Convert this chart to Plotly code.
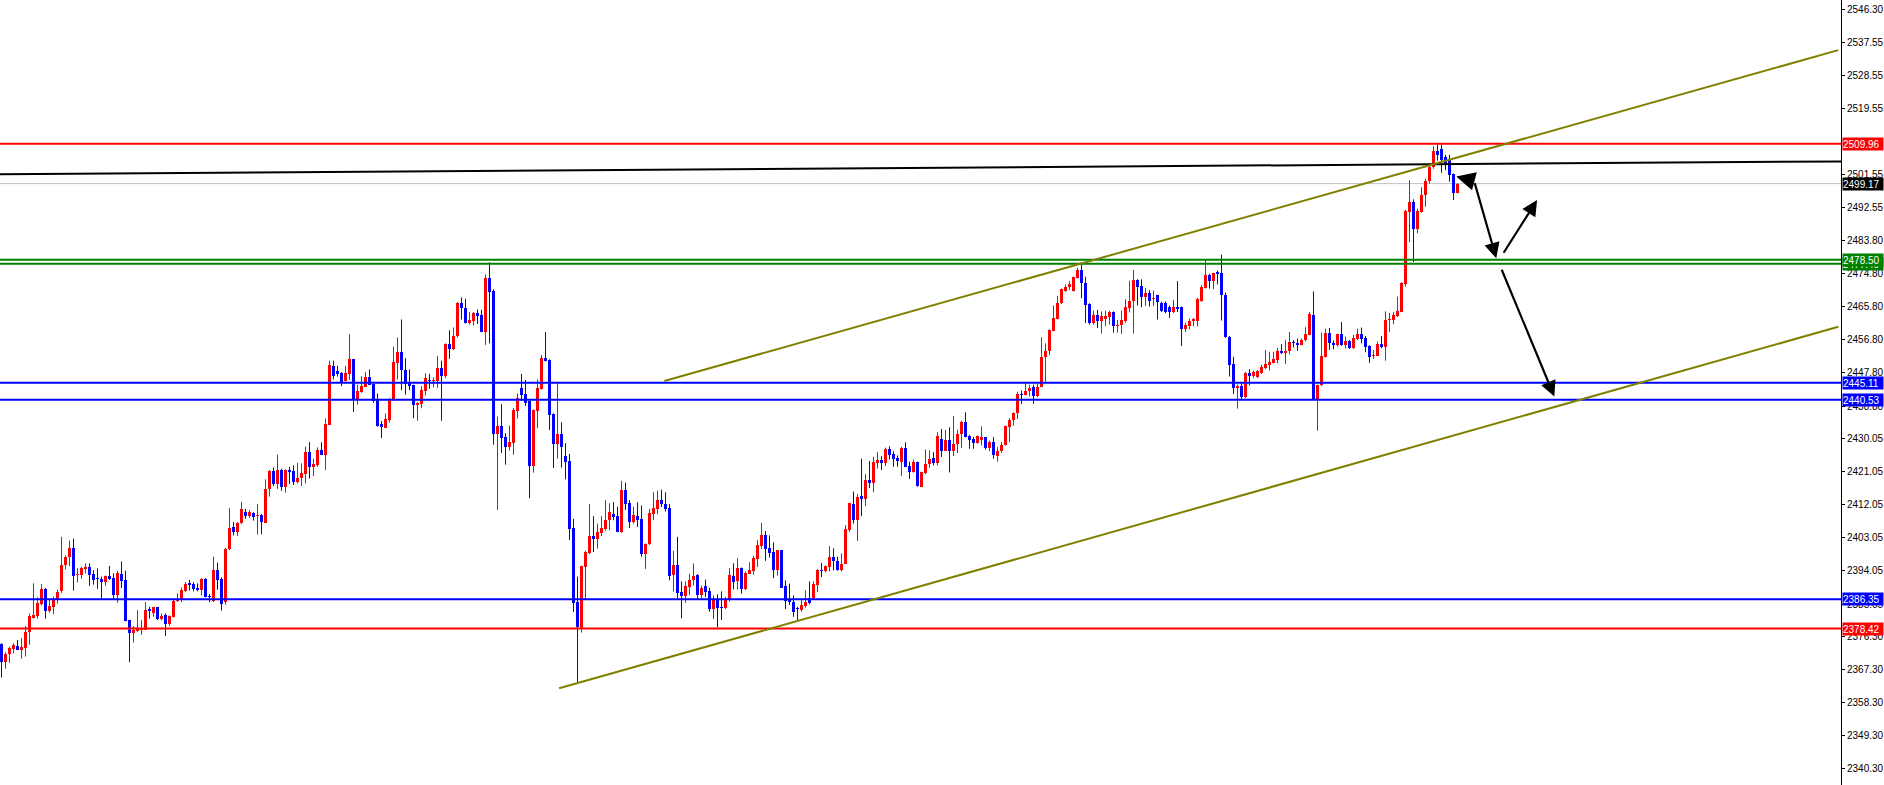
import plotly.graph_objects as go

# ---------------- data ----------------
opens = [
 2374.2,2369.3,2371.5,2372.8,2373.8,2372.6,2373.1,2377.5,2381.3,2381.8,
 2385.1,2389.2,2383.3,2384.3,2386.3,2388.5,2395.6,2397.9,2400.3,2393.0,
 2393.0,2394.7,2395.2,2393.2,2391.9,2391.9,2391.0,2392.7,2392.1,2387.6,
 2393.2,2391.6,2380.7,2377.3,2377.8,2378.0,2378.0,2383.8,2382.7,2384.2,
 2381.1,2382.0,2379.6,2381.6,2385.8,2386.2,2388.7,2390.7,2390.5,2389.4,
 2389.0,2391.9,2387.2,2385.8,2394.3,2391.9,2385.6,2399.9,2405.9,2404.6,
 2407.0,2410.0,2409.0,2409.8,2408.9,2409.3,2407.1,2416.3,2421.2,2417.6,
 2421.4,2416.9,2421.4,2421.2,2418.2,2419.4,2420.3,2426.3,2422.3,2422.9,
 2427.0,2425.6,2433.7,2449.8,2448.2,2447.8,2445.5,2447.5,2451.5,2440.8,
 2442.6,2444.0,2446.8,2444.8,2440.4,2433.9,2432.8,2435.0,2440.6,2450.6,
 2453.5,2448.6,2445.3,2444.4,2439.2,2439.3,2443.0,2446.0,2445.5,2445.7,
 2449.1,2446.9,2455.6,2454.4,2457.8,2466.7,2465.4,2461.4,2462.0,2464.1,
 2463.6,2458.9,2473.5,2469.9,2431.2,2433.4,2430.3,2427.8,2428.8,2437.5,
 2443.7,2442.0,2440.1,2422.5,2437.5,2443.5,2451.8,2451.3,2436.6,2428.5,
 2431.2,2425.2,2424.0,2405.7,2385.6,2378.5,2395.2,2398.8,2403.5,2402.8,
 2404.4,2405.5,2407.8,2409.5,2408.9,2404.6,2416.0,2412.5,2407.3,2408.9,
 2408.2,2398.6,2401.3,2409.6,2410.9,2413.4,2412.3,2411.1,2393.0,2395.7,
 2388.3,2387.2,2389.7,2391.5,2393.0,2387.5,2389.9,2388.5,2383.8,2386.5,
 2384.3,2383.9,2386.1,2392.8,2391.2,2394.8,2389.2,2393.3,2394.1,2397.3,
 2400.9,2403.8,2400.4,2399.1,2394.3,2399.7,2389.9,2386.3,2385.6,2383.8,
 2383.4,2384.5,2386.8,2386.6,2390.3,2394.3,2394.1,2395.2,2397.7,2396.8,
 2394.2,2395.9,2405.1,2412.2,2407.8,2414.3,2413.6,2418.7,2418.0,2423.4,
 2424.1,2423.4,2427.2,2425.7,2424.6,2423.7,2427.4,2422.5,2421.0,2423.7,
 2416.9,2420.7,2423.2,2424.6,2423.4,2429.9,2426.6,2429.7,2426.6,2428.4,
 2431.2,2434.4,2430.6,2429.9,2428.8,2429.5,2430.3,2427.4,2429.0,2425.2,
 2426.5,2428.1,2433.2,2435.0,2436.8,2442.1,2441.9,2442.8,2443.9,2441.4,
 2444.1,2452.0,2453.7,2459.3,2462.3,2466.7,2470.1,2471.0,2470.1,2473.6,
 2475.7,2472.3,2466.5,2461.4,2463.6,2461.8,2462.5,2463.1,2464.3,2460.5,
 2460.7,2462.0,2465.4,2467.4,2473.0,2471.4,2468.5,2469.6,2467.8,2468.9,
 2466.9,2466.9,2465.6,2464.2,2465.6,2465.6,2459.8,2460.5,2461.8,2461.8,
 2467.4,2470.9,2474.5,2472.8,2475.2,2474.8,2468.9,2457.5,2450.2,2443.7,
 2444.2,2441.2,2447.7,2447.0,2446.8,2447.9,2449.1,2450.0,2450.6,2451.3,
 2453.7,2453.3,2453.7,2456.2,2455.8,2455.3,2456.6,2458.2,2463.4,2440.8,
 2444.4,2452.2,2458.5,2455.8,2455.5,2458.4,2455.5,2456.5,2454.5,2457.1,
 2458.3,2457.2,2455.1,2452.4,2452.4,2455.6,2454.9,2462.1,2462.1,2463.2,
 2464.3,2471.9,2491.5,2494.3,2486.9,2491.5,2496.0,2499.8,2503.7,2507.9,
 2508.6,2506.3,2505.5,2501.7,2496.5]

highs = [
 2374.4,2372.0,2373.5,2374.4,2375.3,2375.8,2379.1,2382.5,2390.7,2386.9,
 2390.5,2389.4,2386.2,2387.1,2389.0,2403.3,2398.3,2402.3,2402.8,2394.8,
 2395.2,2396.1,2396.1,2394.3,2394.7,2392.5,2392.8,2395.4,2393.4,2394.1,
 2396.6,2394.1,2380.8,2379.1,2383.4,2380.7,2385.6,2384.3,2384.3,2384.3,
 2382.5,2382.5,2382.0,2386.3,2388.0,2389.6,2391.0,2391.6,2391.0,2390.7,
 2392.1,2392.1,2387.8,2397.9,2396.3,2392.3,2400.3,2411.1,2407.3,2407.3,
 2412.8,2410.9,2410.6,2410.0,2412.2,2409.5,2418.9,2421.4,2422.1,2425.6,
 2421.8,2421.6,2422.3,2422.7,2423.4,2423.2,2427.8,2429.0,2424.5,2427.6,
 2429.0,2435.4,2451.1,2451.1,2449.7,2448.0,2449.7,2458.3,2451.6,2444.6,
 2446.9,2448.0,2448.7,2444.8,2442.2,2434.8,2436.8,2441.0,2454.9,2457.4,
 2462.3,2451.8,2448.7,2444.6,2439.9,2444.2,2447.7,2447.5,2446.6,2452.4,
 2451.1,2455.8,2459.4,2460.1,2467.0,2468.3,2467.9,2464.3,2464.3,2465.0,
 2464.9,2474.5,2477.8,2470.5,2435.9,2439.3,2431.4,2433.5,2438.2,2442.2,
 2447.5,2445.9,2440.1,2437.9,2446.0,2452.7,2458.9,2451.5,2436.8,2445.1,
 2434.4,2428.7,2425.8,2408.2,2392.5,2395.5,2399.5,2412.2,2408.9,2406.9,
 2408.9,2413.3,2412.4,2412.7,2411.5,2418.5,2418.0,2413.3,2411.5,2412.7,
 2411.8,2401.5,2410.9,2415.4,2415.8,2416.1,2415.4,2412.2,2399.5,2403.3,
 2391.2,2391.2,2393.3,2396.1,2393.2,2390.1,2391.7,2389.5,2387.4,2387.7,
 2388.5,2387.0,2394.8,2396.1,2397.5,2395.0,2393.9,2396.4,2398.1,2402.4,
 2407.1,2404.9,2403.7,2401.8,2399.7,2399.7,2391.5,2390.6,2387.4,2384.3,
 2386.1,2388.8,2391.2,2391.2,2394.6,2396.2,2395.5,2400.8,2400.2,2397.9,
 2398.8,2406.5,2412.5,2415.6,2414.9,2424.5,2420.3,2423.9,2425.0,2426.3,
 2425.2,2427.5,2427.9,2426.5,2425.4,2427.7,2429.0,2423.7,2424.3,2423.7,
 2421.0,2427.0,2426.8,2426.3,2431.7,2432.6,2432.3,2433.0,2436.1,2432.4,
 2434.8,2437.1,2431.0,2430.4,2430.8,2433.3,2430.3,2429.4,2430.4,2427.7,
 2429.0,2433.5,2435.5,2437.1,2442.7,2443.0,2445.2,2444.6,2444.6,2444.8,
 2457.5,2455.8,2459.6,2466.1,2468.7,2470.7,2471.8,2472.7,2473.9,2476.3,
 2477.4,2473.9,2466.7,2464.7,2464.9,2464.5,2464.7,2464.7,2464.5,2462.2,
 2464.7,2467.8,2472.8,2475.7,2473.2,2473.2,2470.9,2470.3,2470.1,2469.0,
 2467.1,2467.2,2466.1,2467.6,2472.7,2465.8,2461.4,2462.5,2462.7,2468.1,
 2471.6,2478.6,2474.7,2475.0,2475.6,2479.9,2469.6,2457.8,2452.2,2444.6,
 2445.0,2448.0,2448.8,2448.4,2448.6,2450.0,2454.0,2453.5,2453.5,2454.6,
 2455.6,2456.7,2458.9,2456.7,2457.1,2457.1,2460.2,2464.3,2469.9,2444.6,
 2458.7,2459.8,2460.0,2456.6,2458.4,2461.6,2457.6,2456.7,2458.1,2459.8,
 2460.1,2457.8,2455.3,2454.0,2456.3,2457.8,2464.5,2464.1,2464.3,2468.5,
 2472.4,2492.0,2500.1,2494.9,2492.4,2498.2,2500.5,2504.7,2509.3,2509.7,
 2509.7,2507.0,2507.0,2501.9,2499.3]

lows = [
 2365.1,2367.5,2369.1,2371.7,2372.6,2370.2,2370.8,2374.0,2381.1,2381.1,
 2384.7,2381.1,2382.7,2382.3,2385.2,2388.1,2394.5,2395.4,2388.7,2390.9,
 2391.9,2393.4,2390.0,2390.3,2389.2,2386.5,2390.0,2391.6,2386.5,2385.4,
 2389.4,2380.4,2369.3,2374.6,2377.5,2376.7,2378.0,2381.1,2381.6,2380.7,
 2380.7,2376.4,2379.1,2381.4,2385.6,2385.6,2388.3,2388.7,2388.5,2388.5,
 2387.4,2386.9,2385.6,2385.6,2388.9,2383.3,2384.9,2399.7,2403.7,2403.5,
 2406.8,2408.2,2408.4,2407.7,2403.9,2404.0,2407.1,2414.2,2417.1,2416.3,
 2415.8,2415.3,2417.6,2417.4,2417.8,2417.1,2417.8,2419.1,2419.8,2422.3,
 2425.6,2421.4,2433.7,2446.0,2446.8,2444.2,2445.5,2445.9,2437.2,2439.2,
 2442.4,2443.9,2444.6,2439.7,2433.2,2430.1,2432.8,2434.3,2440.2,2446.0,
 2443.1,2441.9,2443.1,2435.5,2434.8,2438.2,2441.7,2443.5,2443.9,2443.7,
 2434.8,2446.4,2451.6,2454.0,2457.4,2462.3,2461.2,2460.9,2460.7,2461.1,
 2458.9,2455.4,2455.8,2428.3,2410.6,2426.1,2422.9,2426.7,2425.6,2435.4,
 2440.2,2438.8,2413.8,2420.7,2432.8,2443.3,2450.9,2432.3,2422.0,2424.5,
 2422.1,2418.9,2402.4,2382.9,2363.9,2377.3,2386.1,2398.6,2399.2,2400.1,
 2403.5,2405.0,2405.1,2407.8,2404.6,2404.4,2410.6,2405.7,2406.9,2406.0,
 2397.9,2394.6,2401.1,2407.8,2409.4,2411.4,2410.2,2391.5,2388.5,2386.6,
 2381.2,2385.4,2387.5,2390.1,2386.6,2386.6,2387.0,2383.0,2381.0,2378.7,
 2380.7,2383.7,2385.7,2389.0,2389.0,2387.9,2388.8,2393.2,2393.0,2395.1,
 2400.0,2396.8,2397.7,2392.1,2392.8,2389.4,2383.7,2384.8,2381.6,2380.5,
 2383.0,2384.1,2385.0,2386.3,2388.3,2392.4,2393.7,2393.9,2394.2,2394.1,
 2393.9,2395.9,2404.7,2406.9,2402.2,2408.9,2411.6,2416.5,2415.4,2421.8,
 2421.4,2422.5,2424.3,2422.3,2422.3,2419.8,2422.3,2419.0,2420.7,2416.9,
 2416.9,2420.3,2422.1,2422.7,2422.7,2425.0,2426.6,2420.8,2425.2,2426.1,
 2427.4,2430.3,2427.2,2427.2,2428.6,2428.1,2427.0,2426.6,2424.5,2423.7,
 2426.1,2428.1,2429.0,2433.5,2435.3,2439.4,2441.7,2441.4,2439.4,2441.2,
 2443.9,2445.2,2452.6,2459.1,2462.3,2466.5,2469.8,2470.3,2469.9,2473.4,
 2468.1,2461.3,2460.9,2460.9,2460.0,2458.5,2460.5,2460.9,2458.7,2458.7,
 2458.4,2461.4,2464.2,2458.5,2466.1,2465.6,2466.0,2465.8,2466.0,2462.3,
 2464.3,2464.0,2462.7,2464.0,2464.3,2455.1,2458.9,2459.6,2460.4,2460.4,
 2467.1,2470.7,2470.7,2470.5,2471.8,2462.0,2457.3,2446.8,2442.1,2438.1,
 2440.4,2441.0,2444.4,2446.4,2446.4,2447.5,2448.8,2448.4,2450.4,2450.4,
 2452.9,2450.2,2452.8,2454.7,2453.8,2455.3,2456.4,2458.0,2440.8,2432.1,
 2444.2,2452.0,2454.0,2454.2,2454.9,2455.1,2454.4,2454.3,2454.3,2456.7,
 2455.8,2453.4,2450.5,2451.6,2452.4,2454.5,2451.1,2458.9,2461.0,2463.0,
 2464.3,2471.2,2483.3,2477.9,2485.7,2491.3,2492.9,2499.2,2503.2,2505.4,
 2502.1,2502.8,2499.7,2494.7,2496.5]

closes = [
 2369.3,2371.5,2373.1,2374.0,2372.6,2373.5,2377.5,2381.8,2382.0,2385.4,
 2389.2,2383.3,2384.5,2386.3,2388.3,2395.6,2397.9,2400.3,2392.8,2393.2,
 2394.8,2395.0,2393.0,2391.6,2391.8,2391.0,2392.7,2391.8,2387.6,2393.6,
 2391.2,2380.5,2377.3,2378.0,2378.5,2378.2,2383.4,2383.3,2384.2,2381.1,
 2381.8,2379.6,2381.8,2385.8,2386.2,2388.9,2390.5,2390.3,2389.2,2389.0,
 2391.9,2387.1,2386.9,2394.3,2391.6,2385.2,2400.1,2405.7,2404.6,2407.0,
 2410.8,2409.0,2410.0,2408.7,2409.3,2407.3,2416.2,2421.2,2417.6,2421.4,
 2416.9,2421.4,2420.9,2418.3,2419.4,2420.7,2426.3,2422.3,2423.0,2426.8,
 2425.6,2433.9,2450.0,2446.9,2447.5,2445.3,2447.7,2451.5,2440.8,2442.8,
 2444.2,2446.8,2444.6,2440.2,2433.5,2433.0,2435.2,2440.6,2450.7,2453.5,
 2448.6,2444.9,2444.2,2439.2,2439.5,2443.1,2446.4,2445.5,2445.9,2449.1,
 2446.9,2455.6,2454.4,2457.8,2466.7,2465.4,2461.4,2462.1,2464.1,2463.2,
 2458.9,2473.5,2469.7,2431.2,2433.4,2430.1,2427.8,2429.0,2437.7,2441.1,
 2441.9,2439.7,2422.5,2437.7,2443.7,2451.8,2451.1,2436.4,2428.5,2431.2,
 2427.6,2423.6,2405.5,2385.4,2378.7,2395.4,2399.2,2403.5,2402.8,2404.6,
 2405.7,2407.8,2410.0,2408.7,2404.6,2416.0,2412.2,2407.3,2409.3,2407.8,
 2398.6,2401.3,2409.7,2411.1,2413.4,2412.2,2410.9,2392.6,2395.7,2388.1,
 2387.2,2389.9,2391.7,2392.8,2387.5,2389.5,2388.3,2383.8,2386.3,2384.1,
 2383.9,2386.3,2393.0,2391.0,2394.8,2389.2,2393.5,2394.2,2397.5,2401.1,
 2403.8,2399.9,2399.0,2394.3,2399.7,2389.5,2385.9,2385.6,2382.8,2383.6,
 2384.7,2385.6,2385.4,2390.4,2394.4,2393.9,2395.3,2397.7,2396.8,2394.4,
 2396.0,2405.3,2412.5,2407.8,2414.2,2413.6,2418.7,2418.0,2423.6,2424.1,
 2423.4,2427.2,2425.4,2424.5,2423.9,2427.4,2422.3,2421.0,2423.7,2417.0,
 2420.8,2423.2,2424.3,2423.4,2430.6,2426.6,2429.7,2426.6,2428.6,2431.3,
 2434.4,2430.4,2429.7,2428.8,2430.8,2430.3,2427.4,2429.0,2425.4,2426.6,
 2428.1,2433.3,2435.1,2436.9,2442.0,2441.9,2442.8,2443.7,2441.4,2444.1,
 2452.0,2453.7,2459.4,2462.7,2466.9,2470.5,2471.0,2471.9,2473.7,2475.7,
 2472.1,2466.3,2461.4,2463.6,2461.8,2463.3,2463.3,2464.3,2460.4,2460.9,
 2462.2,2465.6,2467.4,2473.0,2471.2,2468.5,2469.6,2467.2,2468.0,2467.1,
 2464.7,2464.3,2464.2,2465.6,2465.2,2459.8,2460.7,2461.8,2462.3,2467.8,
 2471.2,2474.5,2472.8,2475.0,2474.7,2468.9,2457.5,2450.0,2443.7,2444.2,
 2441.2,2447.7,2447.0,2448.0,2448.2,2449.5,2450.2,2450.8,2451.7,2453.8,
 2453.3,2453.8,2456.2,2455.8,2455.5,2456.7,2458.4,2463.8,2440.8,2444.4,
 2452.4,2458.5,2455.8,2455.5,2458.4,2455.5,2456.4,2454.5,2457.2,2458.3,
 2457.1,2454.9,2452.2,2452.7,2455.6,2454.7,2462.1,2462.5,2463.6,2464.5,
 2472.3,2491.8,2494.2,2486.9,2491.8,2496.2,2500.0,2503.8,2507.9,2507.0,
 2505.7,2504.6,2501.6,2496.5,2499.17]

# horizontal price levels: (price, colour)
level_prices = [2509.96, 2478.50, 2477.40, 2445.11, 2440.53, 2386.35, 2378.42]
level_colors = ["#FF0000", "#008000", "#008000", "#0000FF", "#0000FF", "#0000FF", "#FF0000"]
current_price = 2499.17

# trend lines: (bar index start, price start, bar index end, price end)
channel_lower = (139.4, 2362.2, 459.2, 2460.3)
channel_upper = (165.7, 2445.6, 459.2, 2535.4)
black_trend = (-1.0, 2501.7, 460.0, 2505.2)

# projection arrows: (tail index, tail price, head index, head price)
arrows = [
    (367.2, 2500.1, 363.7, 2501.1),
    (368.2, 2499.7, 373.7, 2478.9),
    (375.3, 2480.0, 383.9, 2494.7),
    (374.9, 2476.2, 388.2, 2441.4),
]

# price-axis tick labels (the one hidden under the 2509.96 tag is left out)
tick_values = [2546.30, 2537.55, 2528.55, 2519.55, 2501.55, 2492.55, 2483.80,
               2474.80, 2465.80, 2456.80, 2447.80, 2438.80, 2430.05, 2421.05, 2412.05,
               2403.05, 2394.05, 2385.05, 2376.30, 2367.30, 2358.30, 2349.30, 2340.30]

# price tags on the axis: (price, background colour) – drawn in this order
tag_prices = [2477.40, 2378.42, 2386.35, 2440.53, 2445.11, 2478.50, 2499.17, 2509.96]
tag_colors = ["#008000", "#FF0000", "#0000FF", "#0000FF", "#0000FF", "#008000", "#000000", "#FF0000"]

n = len(closes)
assert len(opens) == n and len(highs) == n and len(lows) == n, (len(opens), len(highs), len(lows), n)

UP, DOWN = "#FF0000", "#0000FF"
idx = list(range(n))

fig = go.Figure()

for col, want_up in ((UP, True), (DOWN, False)):
    wx, wy, bx, bbase, bh = [], [], [], [], []
    for i in idx:
        up = closes[i] >= opens[i]
        if up != want_up:
            continue
        wx += [i, i, None]
        wy += [lows[i], highs[i], None]
        lo_b = min(opens[i], closes[i])
        hgt = max(abs(closes[i] - opens[i]), 0.28)
        bx.append(i)
        bbase.append(lo_b)
        bh.append(hgt)
    fig.add_trace(go.Scatter(x=wx, y=wy, mode="lines", line=dict(color=col, width=1),
                             hoverinfo="skip", showlegend=False))
    fig.add_trace(go.Bar(x=bx, y=bh, base=bbase, width=0.75, marker=dict(color=col, line=dict(width=0)),
                         hoverinfo="skip", showlegend=False))

shapes = []
# current price (thin silver)
shapes.append(dict(type="line", xref="paper", x0=0, x1=1, yref="y", y0=current_price, y1=current_price,
                   line=dict(color="#C0C0C0", width=1), layer="below"))
for p, c in zip(level_prices, level_colors):
    shapes.append(dict(type="line", xref="paper", x0=0, x1=1, yref="y", y0=p, y1=p,
                       line=dict(color=c, width=2)))
bx0, by0, bx1, by1 = black_trend
shapes.append(dict(type="line", xref="x", yref="y", x0=bx0, y0=by0, x1=bx1, y1=by1,
                   line=dict(color="#000000", width=2)))
for t in (channel_lower, channel_upper):
    shapes.append(dict(type="line", xref="x", yref="y", x0=t[0], y0=t[1], x1=t[2], y1=t[3],
                       line=dict(color="#808000", width=2)))

annotations = []
for k, (ti, tp, hi, hp) in enumerate(arrows):
    annotations.append(dict(x=hi, y=hp, xref="x", yref="y", ax=ti, ay=tp, axref="x", ayref="y",
                            text="", showarrow=True, arrowhead=2,
                            arrowsize=1.5 if k == 0 else 1.4, arrowwidth=2.5 if k == 0 else 2.2,
                            arrowcolor="#000000"))
for p, c in zip(tag_prices, tag_colors):
    annotations.append(dict(x=1, xref="paper", y=p, yref="y", xanchor="left", yanchor="middle",
                            xshift=1, text=f"{p:.2f}", showarrow=False, bgcolor=c,
                            font=dict(family="Liberation Sans, Arial, sans-serif", size=10, color="#FFFFFF"),
                            width=40, height=12, align="left", borderpad=0))

fig.update_layout(
    width=1884, height=785,
    margin=dict(l=0, r=43, t=0, b=0, pad=0),
    paper_bgcolor="#FFFFFF", plot_bgcolor="#FFFFFF",
    barmode="overlay", bargap=0,
    showlegend=False,
    shapes=shapes, annotations=annotations,
    hovermode=False,
    xaxis=dict(range=[-0.375, 459.875], visible=False, fixedrange=True),
    yaxis=dict(range=[2335.95, 2549.0], side="right", showgrid=False, zeroline=False,
               showline=True, linecolor="#000000", linewidth=1,
               ticks="outside", ticklen=3, tickcolor="#000000", tickwidth=1,
               tickvals=tick_values, ticktext=[f"{v:.2f}" for v in tick_values],
               tickfont=dict(family="Liberation Sans, Arial, sans-serif", size=10, color="#000000"),
               fixedrange=True),
)

fig.write_html("out.html", include_plotlyjs=True, full_html=True,
               config={"displayModeBar": False, "staticPlot": True},
               post_script="document.body.style.margin='0';document.body.style.overflow='hidden';")
